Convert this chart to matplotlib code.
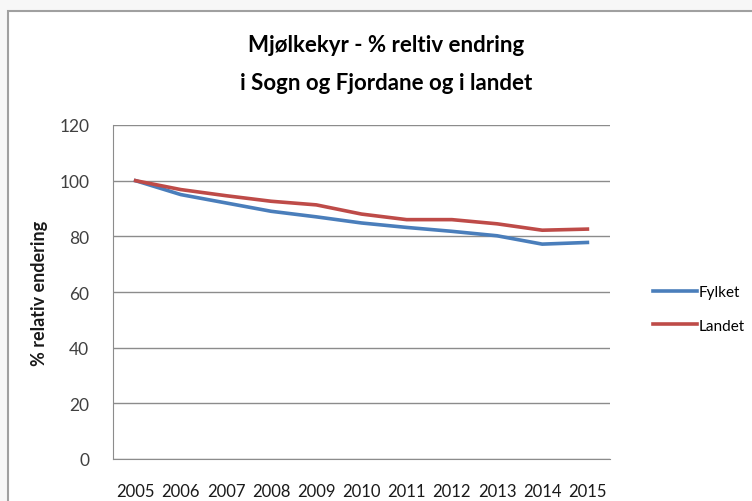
import numpy as np
import matplotlib
matplotlib.use("Agg")
import matplotlib.pyplot as plt
from matplotlib.patches import Rectangle

years = ["2005", "2006", "2007", "2008", "2009", "2010",
         "2011", "2012", "2013", "2014", "2015"]
fylket = [100, 95.0, 92.0, 89.0, 87.0, 84.8, 83.2, 81.8, 80.2, 77.2, 77.8]
landet = [100, 96.8, 94.6, 92.6, 91.3, 88.0, 86.0, 86.0, 84.5, 82.2, 82.6]

plt.rcParams['font.family'] = ['Lato', 'DejaVu Sans']

fig = plt.figure(figsize=(7.52, 5.02), dpi=100)
fig.patch.set_facecolor("#f7f7f7")

# chart area with grey border (drawn under the axes)
fig.patches.append(Rectangle((8 / 752, -0.01), 1.0, 1 - 12 / 502 + 0.01,
                             transform=fig.transFigure, facecolor="white",
                             edgecolor="#a0a0a0", linewidth=1.5, zorder=-5))

ax = fig.add_axes([113 / 752, 42 / 502, 497 / 752, 334 / 502])
ax.set_facecolor("none")
x = np.arange(len(years))
ax.plot(x, fylket, color="#4a7ebb", linewidth=2.6, label="Fylket")
ax.plot(x, landet, color="#be4b48", linewidth=2.6, label="Landet")

ax.set_xlim(-0.5, len(years) - 0.5)
ax.set_ylim(0, 120)
ax.set_yticks(np.arange(0, 121, 20))
ax.set_xticks(x)
ax.set_xticklabels(years)
ax.yaxis.grid(True, color="#8c8c8c", linewidth=1)
ax.set_axisbelow(True)
for s in ["top", "right"]:
    ax.spines[s].set_visible(False)
for s in ["left", "bottom"]:
    ax.spines[s].set_color("#8c8c8c")
ax.tick_params(axis="both", length=0, colors="#404040")
ax.tick_params(axis="x", pad=17, labelsize=12, labelcolor="#1a1a1a")
ax.tick_params(axis="y", pad=17, labelsize=12.5)

ax.set_ylabel("% relativ endering", fontsize=13, fontweight="bold",
              color="#1a1a1a", labelpad=8)

fig.text(386 / 752, 1 - 45 / 502, "Mjølkekyr - % reltiv endring",
         ha="center", va="center", fontsize=16, fontweight="bold")
fig.text(386 / 752, 1 - 83 / 502, "i Sogn og Fjordane og i landet",
         ha="center", va="center", fontsize=16, fontweight="bold")

fig.legend(loc="center left", bbox_to_anchor=(639 / 752, 1 - 310 / 502),
           frameon=False, fontsize=11, handlelength=2.9, handletextpad=0.1,
           labelspacing=1.25)

fig.savefig("out.png", dpi=100, facecolor=fig.get_facecolor())
